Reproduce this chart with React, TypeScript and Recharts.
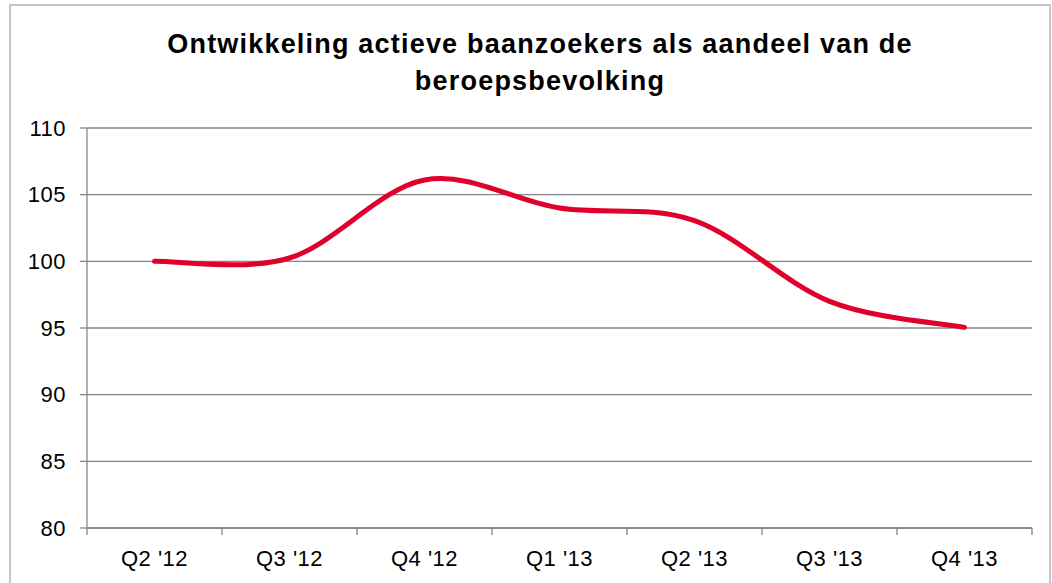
import { CartesianGrid, Line, LineChart, XAxis, YAxis } from "recharts";

// quarters on the x axis, index values (Q2 '12 = 100)
const quarters = ["Q2 '12", "Q3 '12", "Q4 '12", "Q1 '13", "Q2 '13", "Q3 '13", "Q4 '13"];
const aandeel = [100.0, 100.25, 106.1, 104.0, 103.05, 97.0, 95.05];
const yTicks = [80, 85, 90, 95, 100, 105, 110];

const W = 1052;
const H = 583;
const M = { top: 128, right: 20, bottom: 0, left: 0 };
const Y_AXIS_W = 87;
const X_AXIS_H = 55;
const PLOT_W = W - M.left - M.right - Y_AXIS_W;
const BAND = PLOT_W / quarters.length;
const AXIS_Y = H - M.bottom - X_AXIS_H;
const GRID = "#868686";
const FONT = "'Liberation Sans', Arial, sans-serif";

const rows = quarters.map((q, i) => ({ q, v: aandeel[i] }));

// Excel-like smoothed line: a Catmull-Rom spline drawn as cubic beziers
function excelSmooth(context: any) {
  let pts: [number, number][] = [];
  return {
    areaStart() {},
    areaEnd() {},
    lineStart() {
      pts = [];
    },
    point(x: number, y: number) {
      pts.push([+x, +y]);
    },
    lineEnd() {
      if (pts.length === 0) return;
      context.moveTo(pts[0][0], pts[0][1]);
      for (let i = 0; i < pts.length - 1; i++) {
        const p0 = pts[Math.max(i - 1, 0)];
        const p1 = pts[i];
        const p2 = pts[i + 1];
        const p3 = pts[Math.min(i + 2, pts.length - 1)];
        context.bezierCurveTo(
          p1[0] + (p2[0] - p0[0]) / 6,
          p1[1] + (p2[1] - p0[1]) / 6,
          p2[0] - (p3[0] - p1[0]) / 6,
          p2[1] - (p3[1] - p1[1]) / 6,
          p2[0],
          p2[1],
        );
      }
    },
  };
}

// label centred in the band, tick marks on the band edges like Excel draws them
function QuarterTick(props: any) {
  const { x, payload } = props;
  const last = payload.index === quarters.length - 1;
  return (
    <g>
      <line x1={x - BAND / 2} x2={x - BAND / 2} y1={AXIS_Y} y2={AXIS_Y + 7} stroke={GRID} strokeWidth={1.3} />
      {last && <line x1={x + BAND / 2} x2={x + BAND / 2} y1={AXIS_Y} y2={AXIS_Y + 7} stroke={GRID} strokeWidth={1.3} />}
      <text
        x={x}
        y={AXIS_Y + 37.5}
        textAnchor="middle"
        fontSize={22}
        fontFamily={FONT}
        letterSpacing={0.5}
        fill="#000"
      >
        {payload.value}
      </text>
    </g>
  );
}

export default function App() {
  return (
    <div style={{ position: "absolute", left: 0, top: 0, width: W, height: H, background: "#fff", overflow: "hidden" }}>
      <div
        style={{
          position: "absolute",
          left: 9,
          top: 4,
          width: 1038,
          height: 640,
          border: "2px solid #c6c6c6",
        }}
      />
      <div
        style={{
          position: "absolute",
          left: 540,
          top: 26,
          transform: "translateX(-50%)",
          width: 960,
          textAlign: "center",
          fontFamily: FONT,
          fontWeight: "bold",
          fontSize: 27,
          letterSpacing: 1.2,
          lineHeight: "37px",
          color: "#000",
        }}
      >
        Ontwikkeling actieve baanzoekers als aandeel van de
        <br />
        beroepsbevolking
      </div>
      <div style={{ position: "absolute", left: 0, top: 0 }}>
        <LineChart width={W} height={H} data={rows} margin={M}>
          <CartesianGrid vertical={false} stroke={GRID} strokeWidth={1.3} />
          <XAxis
            dataKey="q"
            height={X_AXIS_H}
            padding={{ left: BAND / 2, right: BAND / 2 }}
            axisLine={{ stroke: GRID, strokeWidth: 1.3 }}
            tickLine={false}
            tick={<QuarterTick />}
            interval={0}
          />
          <YAxis
            width={Y_AXIS_W}
            domain={[80, 110]}
            ticks={yTicks}
            interval={0}
            axisLine={{ stroke: GRID, strokeWidth: 1.3 }}
            tickLine={{ stroke: GRID, strokeWidth: 1.3 }}
            tickSize={7}
            tickMargin={14}
            tick={{ fontSize: 22, fontFamily: FONT, fill: "#000", letterSpacing: 0.5 }}
          />
          <Line
            dataKey="v"
            type={excelSmooth as any}
            stroke="#e0002b"
            strokeWidth={5}
            strokeLinecap="round"
            dot={false}
            activeDot={false}
            isAnimationActive={false}
          />
        </LineChart>
      </div>
    </div>
  );
}
